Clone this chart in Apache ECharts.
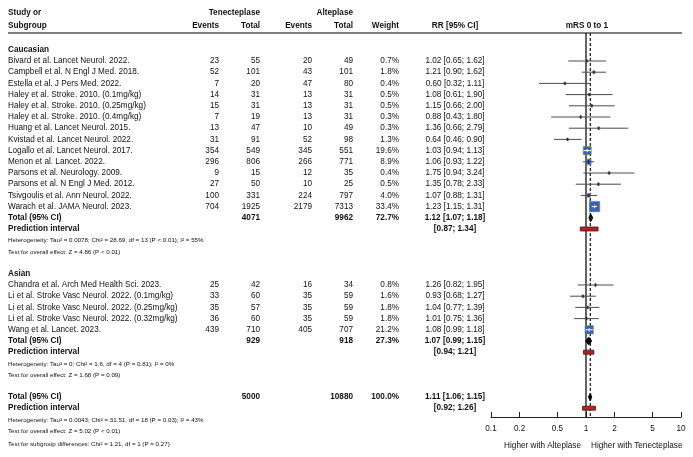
<!DOCTYPE html>
<html><head><meta charset="utf-8">
<script src="https://cdn.jsdelivr.net/npm/echarts@6/dist/echarts.min.js"></script>
<style>html,body{margin:0;padding:0;background:#fff}#c{width:693px;height:457px}</style>
</head><body><div id="c"></div>
<script>
// ---------- data ----------
const cauNames = [
  'Bivard et al. Lancet Neurol. 2022.',
  'Campbell et al. N Engl J Med. 2018.',
  'Estella et al. J Pers Med. 2022.',
  'Haley et al. Stroke. 2010. (0.1mg/kg)',
  'Haley et al. Stroke. 2010. (0.25mg/kg)',
  'Haley et al. Stroke. 2010. (0.4mg/kg)',
  'Huang et al. Lancet Neurol. 2015.',
  'Kvistad et al. Lancet Neurol. 2022.',
  'Logallo et al. Lancet Neurol. 2017.',
  'Menon et al. Lancet. 2022.',
  'Parsons et al. Neurology. 2009.',
  'Parsons et al. N Engl J Med. 2012.',
  'Tsivgoulis et al. Ann Neurol. 2022.',
  'Warach et al. JAMA Neurol. 2023.'
];
const cauTnkEvents = [23, 52, 7, 14, 15, 7, 13, 31, 354, 296, 9, 27, 100, 704];
const cauTnkTotal  = [55, 101, 20, 31, 31, 19, 47, 91, 549, 806, 15, 50, 331, 1925];
const cauAltEvents = [20, 43, 47, 13, 13, 13, 10, 52, 345, 266, 12, 10, 224, 2179];
const cauAltTotal  = [49, 101, 80, 31, 31, 31, 49, 98, 551, 771, 35, 25, 797, 7313];
const cauWeight    = [0.7, 1.8, 0.4, 0.5, 0.5, 0.3, 0.3, 1.3, 19.6, 8.9, 0.4, 0.5, 4.0, 33.4];
const cauRR        = [1.02, 1.21, 0.60, 1.08, 1.15, 0.88, 1.36, 0.64, 1.03, 1.06, 1.75, 1.35, 1.07, 1.23];
const cauLo        = [0.65, 0.90, 0.32, 0.61, 0.66, 0.43, 0.66, 0.46, 0.94, 0.93, 0.94, 0.78, 0.88, 1.15];
const cauHi        = [1.62, 1.62, 1.11, 1.90, 2.00, 1.80, 2.79, 0.90, 1.13, 1.22, 3.24, 2.33, 1.31, 1.31];
const cauTotals    = [4071, 9962, 72.7];       // TNK total, ALT total, weight
const cauPooled    = [1.12, 1.07, 1.18];
const cauPI        = [0.87, 1.34];
const cauHet  = 'Heterogeneity: Tau\u00b2 = 0.0078; Chi\u00b2 = 28.69, df = 13 (P < 0.01); I\u00b2 = 55%';
const cauTest = 'Test for overall effect: Z = 4.86 (P < 0.01)';

const asiNames = [
  'Chandra et al. Arch Med Health Sci. 2023.',
  'Li et al. Stroke Vasc Neurol. 2022. (0.1mg/kg)',
  'Li et al. Stroke Vasc Neurol. 2022. (0.25mg/kg)',
  'Li et al. Stroke Vasc Neurol. 2022. (0.32mg/kg)',
  'Wang et al. Lancet. 2023.'
];
const asiTnkEvents = [25, 33, 35, 36, 439];
const asiTnkTotal  = [42, 60, 57, 60, 710];
const asiAltEvents = [16, 35, 35, 35, 405];
const asiAltTotal  = [34, 59, 59, 59, 707];
const asiWeight    = [0.8, 1.6, 1.8, 1.8, 21.2];
const asiRR        = [1.26, 0.93, 1.04, 1.01, 1.08];
const asiLo        = [0.82, 0.68, 0.77, 0.75, 0.99];
const asiHi        = [1.95, 1.27, 1.39, 1.36, 1.18];
const asiTotals    = [929, 918, 27.3];
const asiPooled    = [1.07, 0.99, 1.15];
const asiPI        = [0.94, 1.21];
const asiHet  = 'Heterogeneity: Tau\u00b2 = 0; Chi\u00b2 = 1.6, df = 4 (P = 0.81); I\u00b2 = 0%';
const asiTest = 'Test for overall effect: Z = 1.68 (P = 0.09)';

const allTotals = [5000, 10880, 100.0];
const allPooled = [1.11, 1.06, 1.15];
const allPI     = [0.92, 1.26];
const allHet  = 'Heterogeneity: Tau\u00b2 = 0.0043; Chi\u00b2 = 31.51, df = 18 (P = 0.03); I\u00b2 = 43%';
const allTest = 'Test for overall effect: Z = 5.02 (P < 0.01)';
const subTest = 'Test for subgroup differences: Chi\u00b2 = 1.21, df = 1 (P = 0.27)';

const tickValues = [0.1, 0.2, 0.5, 1, 2, 5, 10];
const tickLabels = ['0.1', '0.2', '0.5', '1', '2', '5', '10'];

// ---------- layout ----------
const FONT = '"Liberation Sans", Arial, Helvetica, sans-serif';
const FS = 8.2, FS_SMALL = 6.2;
const COL = {label: 8, tE: 219, tT: 260, aE: 312, aT: 353, w: 399, rr: 455};
const TXT = '#111';

const fmtW = w => w.toFixed(1) + '%';
const fmtRR = (e, l, h) => `${e.toFixed(2)} [${l.toFixed(2)}; ${h.toFixed(2)}]`;
const fmtPI = (l, h) => `[${l.toFixed(2)}; ${h.toFixed(2)}]`;

const tableRows = [];
const studyMarks = [];
const diamonds = [];
const piBars = [];

function addGroup(title, r0, names, tE, tT, aE, aT, w, rr, lo, hi, totals, pooled, pi, het, test) {
  tableRows.push({r: r0 - 1, bold: true, cells: {label: title}});
  names.forEach((n, i) => {
    tableRows.push({r: r0 + i, cells: {label: n, tE: tE[i], tT: tT[i], aE: aE[i], aT: aT[i], w: fmtW(w[i]), rr: fmtRR(rr[i], lo[i], hi[i])}});
    studyMarks.push([rr[i], r0 + i, lo[i], hi[i], w[i]]);
  });
  const rt = r0 + names.length;
  tableRows.push({r: rt, bold: true, cells: {label: 'Total (95% CI)', tT: totals[0], aT: totals[1], w: fmtW(totals[2]), rr: fmtRR(pooled[0], pooled[1], pooled[2])}});
  tableRows.push({r: rt + 1, bold: true, cells: {label: 'Prediction interval', rr: fmtPI(pi[0], pi[1])}});
  tableRows.push({r: rt + 2.05, small: true, cells: {label: het}});
  tableRows.push({r: rt + 3.1, small: true, cells: {label: test}});
  diamonds.push([pooled[0], rt, pooled[1], pooled[2]]);
  piBars.push([pi[0], rt + 1, pi[1]]);
}
addGroup('Caucasian', 0, cauNames, cauTnkEvents, cauTnkTotal, cauAltEvents, cauAltTotal, cauWeight, cauRR, cauLo, cauHi, cauTotals, cauPooled, cauPI, cauHet, cauTest);
addGroup('Asian', 20, asiNames, asiTnkEvents, asiTnkTotal, asiAltEvents, asiAltTotal, asiWeight, asiRR, asiLo, asiHi, asiTotals, asiPooled, asiPI, asiHet, asiTest);
// overall
tableRows.push({r: 30, bold: true, cells: {label: 'Total (95% CI)', tT: allTotals[0], aT: allTotals[1], w: fmtW(allTotals[2]), rr: fmtRR(allPooled[0], allPooled[1], allPooled[2])}});
tableRows.push({r: 31, bold: true, cells: {label: 'Prediction interval', rr: fmtPI(allPI[0], allPI[1])}});
tableRows.push({r: 32.05, small: true, cells: {label: allHet}});
tableRows.push({r: 33.1, small: true, cells: {label: allTest}});
tableRows.push({r: 34.2, small: true, cells: {label: subTest}});
diamonds.push([allPooled[0], 30, allPooled[1], allPooled[2]]);
piBars.push([allPI[0], 31, allPI[1]]);

const R_TOP = -2.5, R_AXIS = 31.786;

// ---------- chart ----------
const chart = echarts.init(document.getElementById('c'), null, {renderer: 'canvas'});

function txt(x, y, text, opts) {
  opts = opts || {};
  return {
    type: 'text', x: x, y: y, silent: true,
    style: {
      text: String(text), fill: TXT,
      font: `${opts.bold ? 'bold ' : ''}${opts.size || FS}px ${FONT}`,
      align: opts.align || 'left', verticalAlign: 'middle'
    }
  };
}

const option = {
  animation: false,
  backgroundColor: '#fff',
  grid: {left: 491, right: 12, top: 5, bottom: 40},
  xAxis: {
    type: 'log', logBase: 10, min: 0.1, max: 10,
    axisLine: {show: true, onZero: false, lineStyle: {color: '#222', width: 1}},
    axisTick: {show: true, inside: true, length: 5, customValues: tickValues, lineStyle: {color: '#222', width: 1}},
    axisLabel: {
      customValues: tickValues, margin: 8, fontSize: FS, fontFamily: FONT, color: TXT,
      formatter: v => {
        let best = 0, bd = Infinity;
        tickValues.forEach((t, i) => { const d = Math.abs(Math.log(t) - Math.log(v)); if (d < bd) { bd = d; best = i; } });
        return tickLabels[best];
      }
    },
    splitLine: {show: false}
  },
  yAxis: {type: 'value', inverse: true, min: -5, max: R_AXIS, show: false},
  graphic: {elements: [
    txt(COL.label, 13, 'Study or', {bold: true}),
    txt(COL.label, 25.5, 'Subgroup', {bold: true}),
    txt(COL.tT, 13, 'Tenecteplase', {bold: true, align: 'right'}),
    txt(COL.aT, 13, 'Alteplase', {bold: true, align: 'right'}),
    txt(COL.tE, 25.5, 'Events', {bold: true, align: 'right'}),
    txt(COL.tT, 25.5, 'Total', {bold: true, align: 'right'}),
    txt(COL.aE, 25.5, 'Events', {bold: true, align: 'right'}),
    txt(COL.aT, 25.5, 'Total', {bold: true, align: 'right'}),
    txt(COL.w, 25.5, 'Weight', {bold: true, align: 'right'}),
    txt(COL.rr, 25.5, 'RR [95% CI]', {bold: true, align: 'center'}),
    txt(587, 25.5, 'mRS 0 to 1', {bold: true, align: 'center'}),
    {type: 'line', silent: true, shape: {x1: 8, y1: 33, x2: 682, y2: 33}, style: {stroke: '#555', lineWidth: 1.6}},
    txt(581, 446, 'Higher with Alteplase', {align: 'right'}),
    txt(591, 446, 'Higher with Tenecteplase', {align: 'left'})
  ]},
  series: [
    { // reference line at RR = 1
      type: 'line', silent: true, symbol: 'none', z: 1,
      data: [[1, R_TOP], [1, R_AXIS]],
      lineStyle: {color: '#111', width: 1.3}
    },
    { // dashed line at pooled estimate
      type: 'line', silent: true, symbol: 'none', z: 1,
      data: [[allPooled[0], R_TOP], [allPooled[0], R_AXIS]],
      lineStyle: {color: '#111', width: 1.2, type: [3, 2]}
    },
    { // table text
      type: 'custom', silent: true, z: 5,
      data: tableRows.map(t => [1, t.r]),
      encode: {x: 0, y: 1},
      renderItem: (params, api) => {
        const row = tableRows[params.dataIndex];
        const y = api.coord([1, api.value(1)])[1];
        const c = row.cells, o = {bold: row.bold, size: row.small ? FS_SMALL : FS};
        const ch = [txt(COL.label, y, c.label, o)];
        ['tE', 'tT', 'aE', 'aT', 'w'].forEach(k => {
          if (c[k] !== undefined) ch.push(txt(COL[k], y, c[k], Object.assign({align: 'right'}, o)));
        });
        if (c.rr !== undefined) ch.push(txt(COL.rr, y, c.rr, Object.assign({align: 'center'}, o)));
        return {type: 'group', children: ch};
      }
    },
    { // study markers
      type: 'custom', silent: true, z: 6,
      data: studyMarks,
      encode: {x: 0, y: 1},
      renderItem: (params, api) => {
        const e = api.value(0), r = api.value(1), lo = api.value(2), hi = api.value(3), w = api.value(4);
        const p = api.coord([e, r]), pl = api.coord([lo, r]), ph = api.coord([hi, r]);
        const s = Math.max(2.2, 1.8 * Math.sqrt(w));
        const inside = pl[0] >= p[0] - s / 2 && ph[0] <= p[0] + s / 2;
        const col = inside ? '#fff' : '#222';
        return {type: 'group', children: [
          {type: 'rect', shape: {x: p[0] - s / 2, y: p[1] - s / 2, width: s, height: s},
           style: {fill: '#3462b5', stroke: '#7a7a7a', lineWidth: 0.6}},
          {type: 'line', shape: {x1: pl[0], y1: p[1], x2: ph[0], y2: p[1]},
           style: {stroke: inside ? '#fff' : '#4a4a4a', lineWidth: 1}},
          {type: 'line', shape: {x1: p[0], y1: p[1] - 1.6, x2: p[0], y2: p[1] + 1.6},
           style: {stroke: col, lineWidth: 1}}
        ]};
      }
    },
    { // pooled diamonds
      type: 'custom', silent: true, z: 6,
      data: diamonds,
      encode: {x: 0, y: 1},
      renderItem: (params, api) => {
        const e = api.value(0), r = api.value(1), lo = api.value(2), hi = api.value(3);
        const p = api.coord([e, r]), pl = api.coord([lo, r]), ph = api.coord([hi, r]);
        const h = 4;
        return {type: 'polygon', shape: {points: [[pl[0], p[1]], [p[0], p[1] - h], [ph[0], p[1]], [p[0], p[1] + h]]},
          style: {fill: '#000', stroke: '#000', lineWidth: 0.8}};
      }
    },
    { // prediction intervals
      type: 'custom', silent: true, z: 6,
      data: piBars,
      encode: {x: [0, 2], y: 1},
      renderItem: (params, api) => {
        const lo = api.value(0), r = api.value(1), hi = api.value(2);
        const pl = api.coord([lo, r]), ph = api.coord([hi, r]);
        return {type: 'rect', shape: {x: pl[0], y: pl[1] - 2, width: ph[0] - pl[0], height: 4},
          style: {fill: '#b22424', stroke: '#4a1515', lineWidth: 0.8}};
      }
    }
  ]
};
chart.setOption(option);
</script>
</body></html>
